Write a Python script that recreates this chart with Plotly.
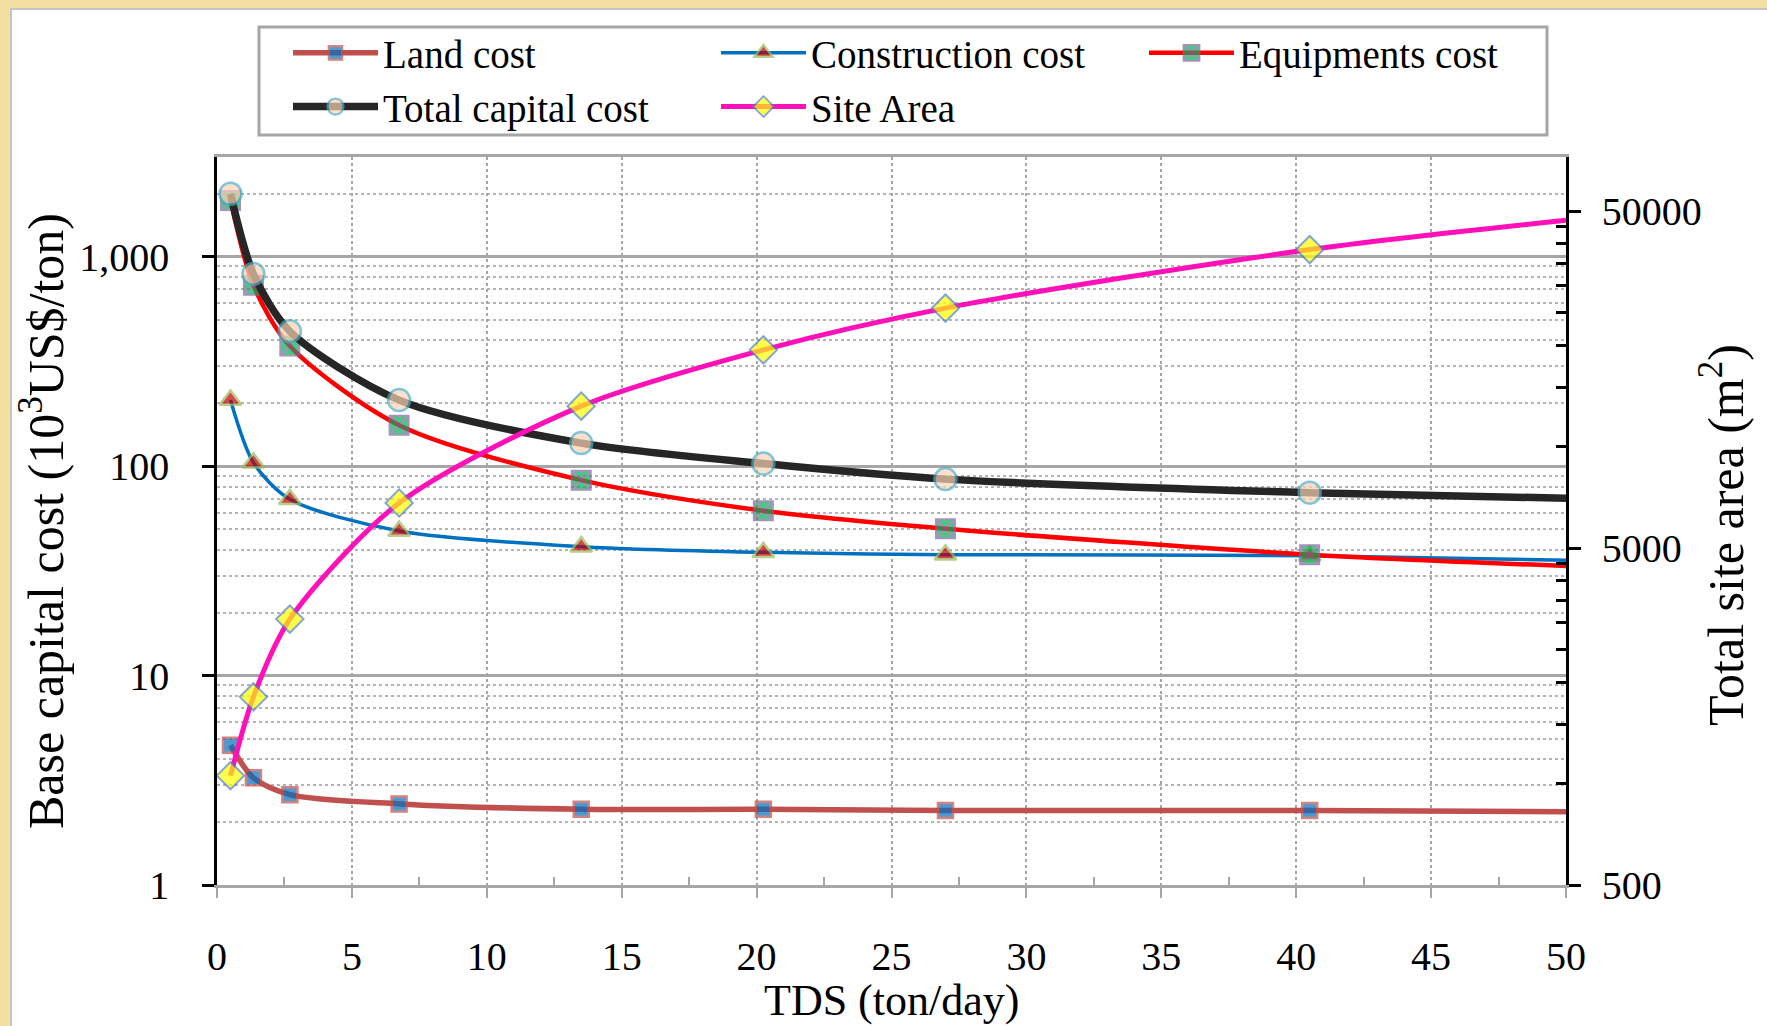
import plotly.graph_objects as go

# ---- data ----
tds = [0.5, 1.35, 2.7, 6.75, 13.5, 20.25, 27, 40.5, 50]
land_cost = [4.65, 3.25, 2.70, 2.44, 2.30, 2.30, 2.27, 2.27, 2.24]
construction_cost = [207, 104, 69.5, 49.1, 41.3, 38.8, 37.8, 37.4, 35.6]
equipments_cost = [1857, 732, 375, 157, 85.8, 61.3, 50.3, 37.8, 33.4]
total_capital_cost = [2000, 829, 441, 207, 129, 103, 86.8, 74.8, 70.3]
site_area = [1056, 1809, 3078, 6806, 13197, 19390, 25790, 38470, 47000]
has_marker = [1, 1, 1, 1, 1, 1, 1, 1, 0]

left_ticks = [1, 10, 100, 1000]
left_ticktext = ["1", "10", "100", "1,000"]
right_ticks = [500, 5000, 50000]
right_ticktext = ["500", "5000", "50000"]
x_ticks = [0, 5, 10, 15, 20, 25, 30, 35, 40, 45, 50]

FONT = "Liberation Serif"

W, H = 1767, 1026
L, R, T, B = 217, 1566, 157, 885
PW, PH = R - L, B - T


def px_x(px):
    return (px - L) / PW


def px_y(py):
    return (B - py) / PH


def series(name, y, color, width, symbol, fill, edge, size, edgew, yaxis="y"):
    sizes = [size if m else 0 for m in has_marker]
    edges = [edgew if m else 0 for m in has_marker]
    return go.Scatter(
        x=tds, y=y, name=name, yaxis=yaxis, mode="lines+markers",
        line=dict(color=color, width=width, shape="spline", smoothing=0.8),
        marker=dict(symbol=symbol, color=fill, size=sizes,
                    line=dict(color=edge, width=edges)),
        cliponaxis=False,
    )


fig = go.Figure()
fig.add_trace(series("Land cost", land_cost, "#c0504d", 5.5, "square", "#0070c0", "#c0504d", 15, 2.5))
fig.add_trace(series("Construction cost", construction_cost, "#0070c0", 3.5, "triangle-up", "#c00000", "#9bbb59", 19, 2.5))
fig.add_trace(series("Equipments cost", equipments_cost, "#ff0000", 4.5, "square-x", "#00b050", "#8064a2", 19, 2))
fig.add_trace(series("Total capital cost", total_capital_cost, "#262626", 7.5, "circle", "#fbd4b4", "#4bacc6", 22, 2.5))
fig.add_trace(series("Site Area", site_area, "#ff10b8", 5, "diamond", "#ffff00", "#4f81bd", 21, 2, yaxis="y2"))

minor_left = [m * 10 ** e for e in range(0, 3) for m in range(2, 10)] + [2000, 3000]
minor_right = [v for v in range(1000, 5000, 500)] + [v for v in range(10000, 50000, 5000)]

fig.update_layout(
    width=W, height=H,
    margin=dict(l=L, r=W - R, t=T, b=H - B),
    paper_bgcolor="#f3dfa0",
    plot_bgcolor="white",
    font=dict(family=FONT, color="black", size=40),
    showlegend=True,
    legend=dict(
        orientation="h", x=px_x(288), y=px_y(21), xanchor="left", yanchor="top",
        bgcolor="rgba(0,0,0,0)", borderwidth=0, itemwidth=85,
        entrywidth=328, font=dict(family=FONT, size=39, color="black"),
        traceorder="normal",
    ),
    xaxis=dict(
        range=[0, 50], tickvals=x_ticks, showgrid=True, gridcolor="#a6a6a6",
        griddash="dot", gridwidth=1.5, zeroline=False,
        showline=True, linecolor="#a6a6a6", linewidth=2.5, mirror=True,
        ticks="outside", ticklen=10, tickcolor="#a6a6a6", tickwidth=1.5,
        ticklabelstandoff=24, tickfont=dict(size=40),
        minor=dict(tickvals=[2.5 + 5 * i for i in range(10)], ticks="inside",
                   ticklen=8, tickcolor="#a6a6a6", tickwidth=1.5, showgrid=False),
    ),
    yaxis=dict(
        type="log", range=[0, 3.477], tickvals=left_ticks, ticktext=left_ticktext,
        showgrid=True, gridcolor="#a6a6a6", gridwidth=2.5, zeroline=False,
        showline=True, linecolor="black", linewidth=2.5,
        ticks="outside", ticklen=12, tickcolor="black", tickwidth=2.5,
        ticklabelstandoff=25, tickfont=dict(size=40),
        minor=dict(tickvals=minor_left, showgrid=True, gridcolor="#b4b4b4",
                   griddash="dot", gridwidth=1.5, ticks=""),
    ),
    yaxis2=dict(
        type="log", range=[2.699, 4.86], overlaying="y", side="right", anchor="x",
        tickvals=right_ticks, ticktext=right_ticktext, showgrid=False, zeroline=False,
        showline=True, linecolor="black", linewidth=2.5,
        ticks="outside", ticklen=12, tickcolor="black", tickwidth=2.5,
        ticklabelstandoff=13, tickfont=dict(size=40),
        minor=dict(tickvals=minor_right, ticks="inside", ticklen=10,
                   tickcolor="black", tickwidth=2.5, showgrid=False),
    ),
    shapes=[
        dict(type="rect", xref="paper", yref="paper", layer="below",
             x0=px_x(11), x1=px_x(1775), y0=px_y(1035), y1=px_y(9),
             fillcolor="white", line=dict(color="#c4c4c4", width=2)),
        dict(type="rect", xref="paper", yref="paper", layer="below",
             x0=px_x(259), x1=px_x(1547), y0=px_y(135), y1=px_y(27),
             fillcolor="white", line=dict(color="#a6a6a6", width=3)),
    ],
    annotations=[
        dict(text="TDS (ton/day)", xref="paper", yref="paper", x=0.5, y=px_y(1001),
             xanchor="center", yanchor="middle", showarrow=False,
             font=dict(family=FONT, size=44, color="black")),
        dict(text="Base capital cost (10<sup>3</sup>US$/ton)", xref="paper", yref="paper",
             x=px_x(42), y=0.5, xanchor="center", yanchor="middle", textangle=-90,
             showarrow=False, font=dict(family=FONT, size=50, color="black")),
        dict(text="Total site area (m<sup>2</sup>)", xref="paper", yref="paper",
             x=px_x(1722), y=px_y(535), xanchor="center", yanchor="middle", textangle=-90,
             showarrow=False, font=dict(family=FONT, size=50, color="black")),
    ],
)

fig.write_html(
    "out.html",
    config={"displayModeBar": False},
    post_script="document.body.style.margin='0';document.body.style.overflow='hidden';",
)
